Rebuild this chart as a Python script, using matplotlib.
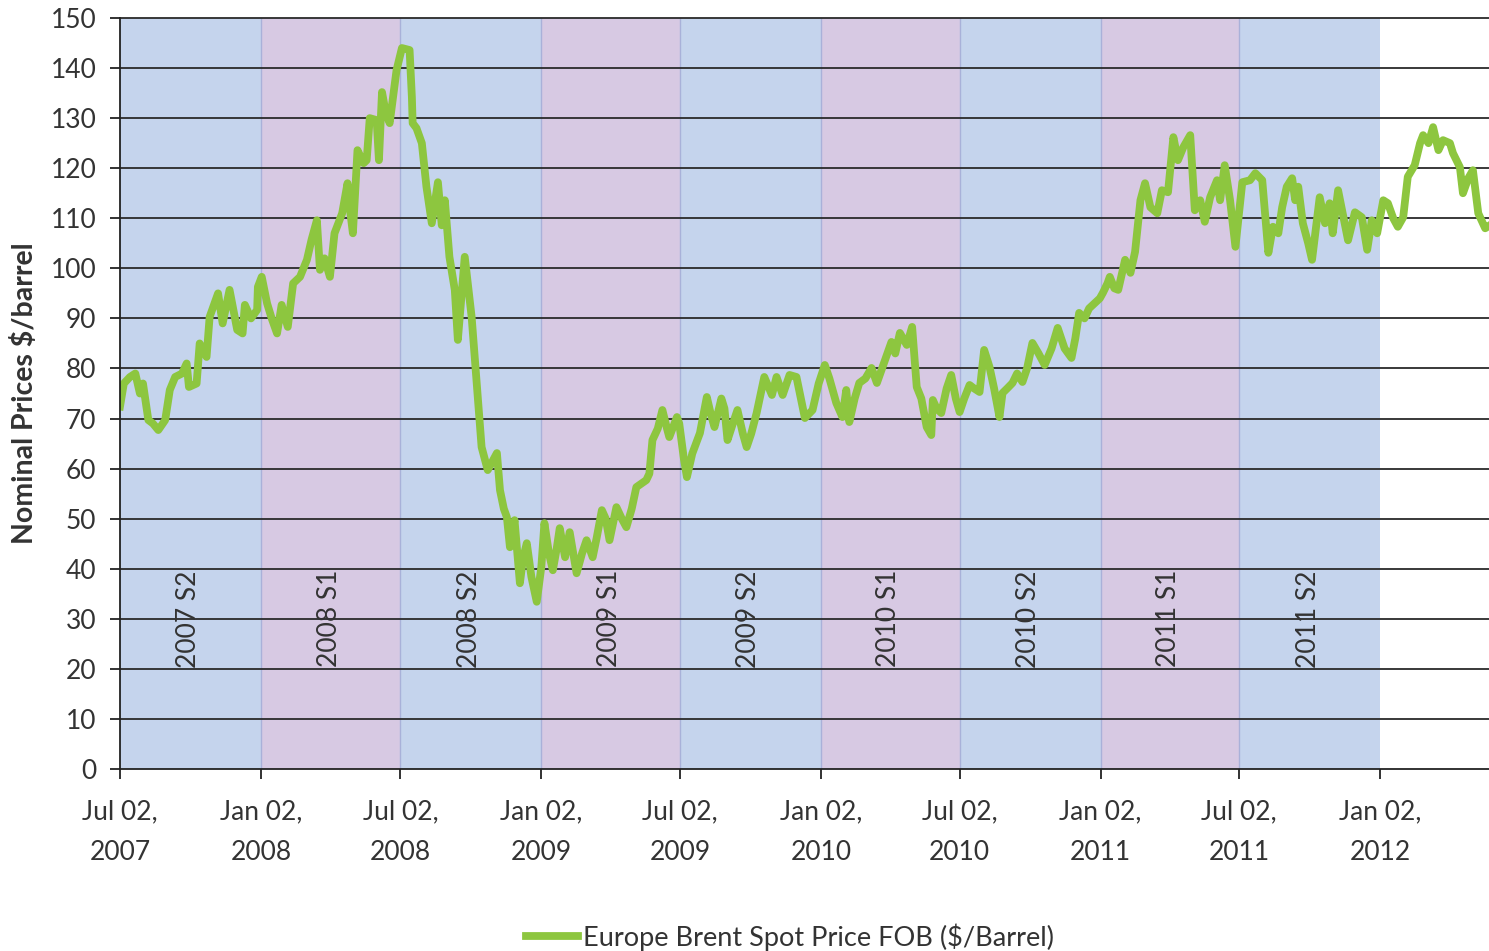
import matplotlib
matplotlib.use("Agg")
import matplotlib.pyplot as plt
import pandas as pd

dates = [
    "2007-07-02", "2007-07-07", "2007-07-15", "2007-07-22", "2007-07-28", "2007-08-01",
    "2007-08-08", "2007-08-14", "2007-08-21", "2007-08-30", "2007-09-05", "2007-09-12",
    "2007-09-21", "2007-09-27", "2007-09-30", "2007-10-10", "2007-10-14", "2007-10-23",
    "2007-10-27", "2007-11-07", "2007-11-13", "2007-11-22", "2007-12-02", "2007-12-09",
    "2007-12-12", "2007-12-20", "2007-12-28", "2007-12-29", "2008-01-03", "2008-01-10",
    "2008-01-16", "2008-01-23", "2008-01-29", "2008-02-06", "2008-02-13", "2008-02-22",
    "2008-03-02", "2008-03-08", "2008-03-15", "2008-03-19", "2008-03-25", "2008-04-01",
    "2008-04-07", "2008-04-17", "2008-04-24", "2008-04-27", "2008-05-01", "2008-05-07",
    "2008-05-15", "2008-05-19", "2008-05-23", "2008-06-01", "2008-06-04", "2008-06-08",
    "2008-06-13", "2008-06-18", "2008-06-27", "2008-07-04", "2008-07-14", "2008-07-17",
    "2008-07-18", "2008-07-23", "2008-07-30", "2008-08-05", "2008-08-12", "2008-08-20",
    "2008-08-25", "2008-08-29", "2008-09-04", "2008-09-11", "2008-09-15", "2008-09-24",
    "2008-10-03", "2008-10-11", "2008-10-16", "2008-10-24", "2008-11-05", "2008-11-09",
    "2008-11-14", "2008-11-18", "2008-11-22", "2008-11-28", "2008-12-05", "2008-12-09",
    "2008-12-14", "2008-12-20", "2008-12-27", "2009-01-02", "2009-01-06", "2009-01-12",
    "2009-01-17", "2009-01-22", "2009-01-26", "2009-02-02", "2009-02-08", "2009-02-17",
    "2009-02-24", "2009-03-02", "2009-03-10", "2009-03-15", "2009-03-22", "2009-03-27",
    "2009-04-01", "2009-04-10", "2009-04-17", "2009-04-23", "2009-04-30", "2009-05-06",
    "2009-05-19", "2009-05-23", "2009-05-27", "2009-06-03", "2009-06-09", "2009-06-15",
    "2009-06-18", "2009-06-28", "2009-07-01", "2009-07-07", "2009-07-11", "2009-07-18",
    "2009-07-28", "2009-08-06", "2009-08-11", "2009-08-16", "2009-08-25", "2009-08-29",
    "2009-09-02", "2009-09-09", "2009-09-15", "2009-09-22", "2009-09-27", "2009-10-03",
    "2009-10-10", "2009-10-20", "2009-10-30", "2009-11-05", "2009-11-13", "2009-11-22",
    "2009-12-01", "2009-12-12", "2009-12-22", "2009-12-30", "2010-01-07", "2010-01-13",
    "2010-01-22", "2010-01-30", "2010-02-04", "2010-02-08", "2010-02-15", "2010-02-21",
    "2010-03-01", "2010-03-09", "2010-03-16", "2010-03-23", "2010-04-04", "2010-04-09",
    "2010-04-15", "2010-04-24", "2010-05-01", "2010-05-07", "2010-05-13", "2010-05-20",
    "2010-05-26", "2010-05-28", "2010-06-02", "2010-06-08", "2010-06-15", "2010-06-21",
    "2010-06-27", "2010-07-02", "2010-07-08", "2010-07-15", "2010-07-21", "2010-07-28",
    "2010-08-03", "2010-08-10", "2010-08-16", "2010-08-23", "2010-08-27", "2010-09-02",
    "2010-09-09", "2010-09-15", "2010-09-22", "2010-09-28", "2010-10-05", "2010-10-13",
    "2010-10-21", "2010-10-30", "2010-11-07", "2010-11-16", "2010-11-25", "2010-11-30",
    "2010-12-05", "2010-12-12", "2010-12-18", "2010-12-25", "2011-01-01", "2011-01-05",
    "2011-01-11", "2011-01-14", "2011-01-20", "2011-01-25", "2011-02-03", "2011-02-10",
    "2011-02-16", "2011-02-23", "2011-03-01", "2011-03-08", "2011-03-17", "2011-03-23",
    "2011-03-31", "2011-04-07", "2011-04-13", "2011-04-20", "2011-04-29", "2011-05-05",
    "2011-05-12", "2011-05-18", "2011-05-25", "2011-06-03", "2011-06-07", "2011-06-13",
    "2011-06-20", "2011-06-27", "2011-07-06", "2011-07-16", "2011-07-23", "2011-08-01",
    "2011-08-09", "2011-08-15", "2011-08-22", "2011-08-27", "2011-09-02", "2011-09-09",
    "2011-09-13", "2011-09-17", "2011-09-23", "2011-09-30", "2011-10-05", "2011-10-10",
    "2011-10-15", "2011-10-22", "2011-10-28", "2011-11-01", "2011-11-08", "2011-11-14",
    "2011-11-21", "2011-11-30", "2011-12-09", "2011-12-16", "2011-12-22", "2011-12-29",
    "2012-01-06", "2012-01-12", "2012-01-19", "2012-01-25", "2012-02-01", "2012-02-07",
    "2012-02-16", "2012-02-23", "2012-02-27", "2012-03-05", "2012-03-11", "2012-03-18",
    "2012-03-24", "2012-04-02", "2012-04-06", "2012-04-15", "2012-04-19", "2012-04-26",
    "2012-05-02", "2012-05-09", "2012-05-18", "2012-05-23",
]

prices = [
    72.4, 77.0, 78.3, 79.0, 75.0, 77.0,
    69.7, 69.0, 67.7, 69.7, 75.7, 78.3,
    79.0, 81.0, 76.3, 77.0, 85.0, 82.3,
    90.3, 95.0, 89.0, 95.7, 87.7, 87.0,
    92.7, 90.0, 91.7, 96.3, 98.3, 93.0,
    90.0, 87.0, 92.7, 88.3, 97.0, 98.3,
    101.7, 105.7, 109.6, 99.7, 102.0, 98.3,
    107.0, 111.0, 117.0, 112.0, 107.0, 123.6,
    121.0, 121.6, 130.0, 129.6, 121.6, 135.2,
    131.0, 129.0, 139.6, 144.0, 143.6, 134.2,
    129.0, 128.0, 125.0, 116.3, 109.0, 117.2,
    108.6, 113.6, 102.3, 95.7, 85.7, 102.3,
    90.3, 74.3, 64.3, 59.7, 63.1, 55.7,
    52.0, 50.3, 44.3, 49.7, 37.1, 42.0,
    45.1, 38.4, 33.4, 40.4, 49.1, 43.0,
    39.7, 44.0, 48.1, 42.3, 47.3, 39.1,
    43.0, 45.7, 42.3, 46.0, 51.7, 50.0,
    45.7, 52.3, 50.0, 48.3, 52.0, 56.3,
    57.7, 59.0, 65.7, 68.0, 71.7, 68.0,
    66.3, 70.3, 69.0, 62.0, 58.3, 63.0,
    67.1, 74.3, 71.0, 68.3, 74.0, 72.0,
    65.7, 69.0, 71.7, 67.0, 64.3, 67.0,
    71.1, 78.3, 74.7, 78.3, 74.7, 78.7,
    78.3, 70.1, 71.7, 77.0, 80.7, 78.0,
    73.1, 70.3, 75.7, 69.3, 74.0, 77.1,
    78.0, 80.1, 77.1, 80.1, 85.3, 83.0,
    87.1, 84.7, 88.3, 76.3, 74.0, 68.3,
    66.7, 73.7, 72.0, 71.1, 76.0, 78.7,
    74.0, 71.3, 74.0, 76.7, 76.0, 75.3,
    83.7, 80.3, 76.0, 70.3, 75.1, 76.0,
    77.1, 79.0, 77.3, 80.0, 85.1, 83.0,
    80.7, 84.0, 88.1, 84.0, 82.1, 86.0,
    91.1, 90.0, 92.0, 93.0, 94.0, 95.1,
    97.0, 98.3, 96.0, 95.7, 101.7, 99.1,
    103.3, 113.6, 117.0, 112.2, 111.0, 115.6,
    115.2, 126.2, 121.6, 124.2, 126.6, 111.6,
    113.6, 109.3, 114.2, 117.6, 113.6, 120.6,
    113.6, 104.3, 117.2, 117.6, 119.0, 117.6,
    103.1, 108.3, 107.0, 112.2, 116.3, 118.0,
    113.6, 116.3, 109.0, 105.0, 101.7, 108.0,
    114.2, 109.0, 113.0, 107.0, 115.6, 111.0,
    105.6, 111.2, 110.2, 103.7, 109.6, 107.0,
    113.6, 113.0, 110.0, 108.3, 110.2, 118.3,
    120.6, 125.0, 126.6, 125.0, 128.2, 123.6,
    125.6, 125.0, 123.0, 120.2, 115.0, 118.0,
    119.6, 111.0, 108.0, 108.5,
]

semester_edges = [
    "2007-07-02", "2008-01-02", "2008-07-02", "2009-01-02", "2009-07-02",
    "2010-01-02", "2010-07-02", "2011-01-02", "2011-07-02", "2012-01-02",
]
semester_labels = [
    "2007 S2", "2008 S1", "2008 S2", "2009 S1", "2009 S2",
    "2010 S1", "2010 S2", "2011 S1", "2011 S2",
]
tick_dates = [
    "2007-07-02", "2008-01-02", "2008-07-02", "2009-01-02", "2009-07-02",
    "2010-01-02", "2010-07-02", "2011-01-02", "2011-07-02", "2012-01-02",
]
tick_labels = [
    "Jul 02,\n2007", "Jan 02,\n2008", "Jul 02,\n2008", "Jan 02,\n2009", "Jul 02,\n2009",
    "Jan 02,\n2010", "Jul 02,\n2010", "Jan 02,\n2011", "Jul 02,\n2011", "Jan 02,\n2012",
]
series_name = "Europe Brent Spot Price FOB ($/Barrel)"
y_label = "Nominal Prices $/barrel"

plt.rcParams['font.family'] = ['Lato', 'DejaVu Sans']

W, H = 1489, 951
fig = plt.figure(figsize=(W / 100, H / 100), dpi=100)
ax = fig.add_axes([120 / W, (H - 769) / H, (W - 120) / W, (769 - 18) / H])

x = pd.to_datetime(dates)
edges = pd.to_datetime(semester_edges)
band_colors = ["#c5d4ed", "#d7c9e3"]

for i in range(len(edges) - 1):
    ax.axvspan(edges[i], edges[i + 1], ymin=0, ymax=1,
               color=band_colors[i % 2], lw=0, zorder=0)
    mid = edges[i] + (edges[i + 1] - edges[i]) / 2
    ax.text(mid - pd.Timedelta(days=2), 30, semester_labels[i], rotation=90,
            ha="center", va="center", fontsize=19, color="#333333", zorder=3)
for e in edges[1:-1]:
    ax.axvline(e, color="#a9b1d9", lw=1.0, zorder=1)

ax.set_ylim(0, 150)
ax.set_xlim(pd.Timestamp("2007-07-02"), pd.Timestamp("2012-05-23"))
ax.set_yticks(range(0, 151, 10))
for v in range(10, 151, 10):
    ax.axhline(v, color="#2a2a2a", lw=1.3, zorder=2, clip_on=False)

ax.plot(x, prices, color="#8dc63f", lw=5.6, zorder=4, label=series_name,
        solid_joinstyle="round")

ax.set_xticks(pd.to_datetime(tick_dates))
ax.set_xticklabels(tick_labels, fontsize=19, color="#333333", linespacing=1.75)
ax.tick_params(axis="x", direction="out", length=7, width=1.3, pad=15, color="#222222")
ax.tick_params(axis="y", direction="out", length=7, width=1.3, pad=10,
               labelsize=19, labelcolor="#333333", color="#222222")

for s in ["top", "right"]:
    ax.spines[s].set_visible(False)
for s in ["left", "bottom"]:
    ax.spines[s].set_color("#222222")
    ax.spines[s].set_linewidth(1.3)
    ax.spines[s].set_zorder(5)

fig.text(25 / W, 1 - 393 / H, y_label, rotation=90, ha="center", va="center",
         fontsize=20.5, fontweight="bold", color="#333333")

fig.legend(loc="center", bbox_to_anchor=(790 / W, 1 - 937 / H), frameon=False,
           fontsize=19.5, handlelength=1.9, handletextpad=0.2,
           labelcolor="#333333")

fig.savefig("out.png", dpi=100)
